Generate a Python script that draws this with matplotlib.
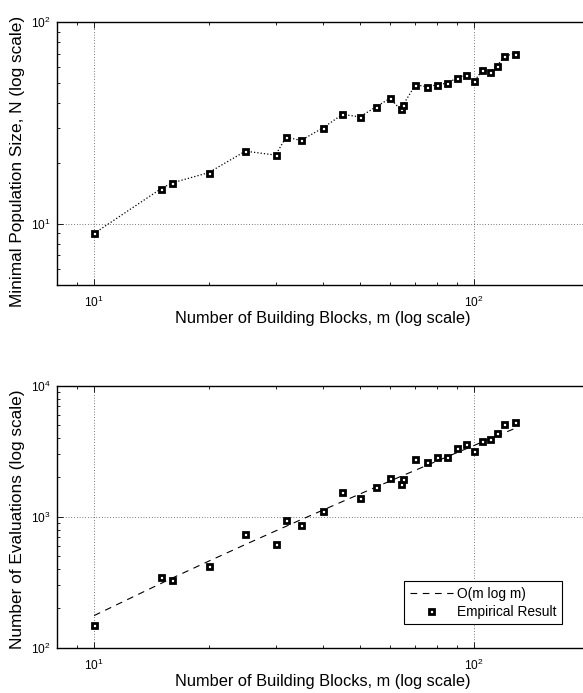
import numpy as np
import matplotlib
matplotlib.use('Agg')
import matplotlib.pyplot as plt
from matplotlib.ticker import LogLocator, FuncFormatter, NullFormatter

plt.rcParams['font.family'] = ['Liberation Sans', 'DejaVu Sans']
plt.rcParams['mathtext.fontset'] = 'custom'
plt.rcParams['mathtext.rm'] = 'Liberation Sans'
plt.rcParams['mathtext.it'] = 'Liberation Sans:italic'

# number of building blocks
m = [10, 15, 16, 20, 25, 30, 32, 35, 40, 45, 50, 55, 60, 64, 65,
     70, 75, 80, 85, 90, 95, 100, 105, 110, 115, 120, 128]
# minimal population size
pop_size = [9, 15, 16, 18, 23, 22, 27, 26, 30, 35, 34, 38, 42, 37, 39,
            49, 48, 49, 50, 53, 55, 51, 58, 57, 61, 68, 70]
# number of evaluations
evals = [150, 346, 330, 420, 741, 625, 943, 859, 1111, 1535, 1397, 1705, 1998, 1777, 1952,
         2759, 2633, 2875, 2891, 3388, 3635, 3176, 3787, 3922, 4361, 5138, 5291]
# O(m log m) curve
fit_curve = [176, 310, 339, 458, 615, 780, 847, 951, 1127, 1309, 1494, 1684, 1877, 2034, 2073,
             2272, 2474, 2678, 2885, 3094, 3305, 3518, 3733, 3950, 4169, 4389, 4745]

W, H = 583, 693
fig = plt.figure(figsize=(W / 100, H / 100), dpi=100)

def px_axes(left, top, right, bottom):
    return fig.add_axes([left / W, 1 - bottom / H, (right - left) / W, (bottom - top) / H])

ax1 = px_axes(57.3, 22.3, 588.7, 285)
ax2 = px_axes(57.3, 386, 588.7, 647.7)

mk = dict(marker='s', markersize=3.6, markeredgewidth=2.0,
          markerfacecolor='white', markeredgecolor='black')

label_x = (-57.3 + 25) / 531.4

ax1.plot(m, pop_size, color='black', linestyle=':', linewidth=0.9, **mk)
ax1.set_ylim(5, 100)
ax1.set_ylabel('Minimal Population Size, N (log scale)', fontsize=12.4)
ax1.yaxis.set_label_coords(label_x, 0.47)

ax2.plot(m, fit_curve, color='black', linewidth=0.8, dashes=(6, 5), label='O(m log m)')
ax2.plot(m, evals, linestyle='none', label='Empirical Result', **mk)
ax2.set_ylim(100, 10000)
ax2.set_ylabel('Number of Evaluations (log scale)', fontsize=12.4)
ax2.yaxis.set_label_coords(label_x, 0.49)

leg = ax2.legend(loc='lower right', bbox_to_anchor=(561.7 / W, 1 - 624.3 / H),
                 bbox_transform=fig.transFigure, borderaxespad=0, fontsize=9.9,
                 fancybox=False, framealpha=1, edgecolor='black', handlelength=3.1,
                 borderpad=0.4, labelspacing=0.3, handletextpad=0.3)
leg.get_frame().set_linewidth(0.8)

fmt = FuncFormatter(lambda v, p: r'$\mathregular{10^{%d}}$' % round(np.log10(v)))
for ax in (ax1, ax2):
    ax.set_xscale('log')
    ax.set_yscale('log')
    ax.set_xlim(8, 200)
    ax.set_xlabel('Number of Building Blocks, m (log scale)', fontsize=11.8, labelpad=1)
    ax.xaxis.set_major_formatter(fmt)
    ax.yaxis.set_major_formatter(fmt)
    ax.xaxis.set_minor_formatter(NullFormatter())
    ax.yaxis.set_minor_formatter(NullFormatter())
    ax.yaxis.set_minor_locator(LogLocator(base=10, subs=np.arange(2, 10), numticks=20))
    ax.xaxis.set_minor_locator(LogLocator(base=10, subs=np.arange(2, 10), numticks=20))
    ax.tick_params(which='both', direction='in', top=True, right=True, labelsize=8.6, width=0.6)
    ax.tick_params(which='major', length=4)
    ax.tick_params(axis='x', which='major', pad=7)
    ax.tick_params(axis='y', which='major', pad=5)
    ax.tick_params(which='minor', length=2.2)
    ax.grid(True, which='major', color='black', linestyle=(0, (1, 3)), linewidth=0.5)
    for s in ax.spines.values():
        s.set_linewidth(1.0)

fig.savefig('out.png', dpi=100)
